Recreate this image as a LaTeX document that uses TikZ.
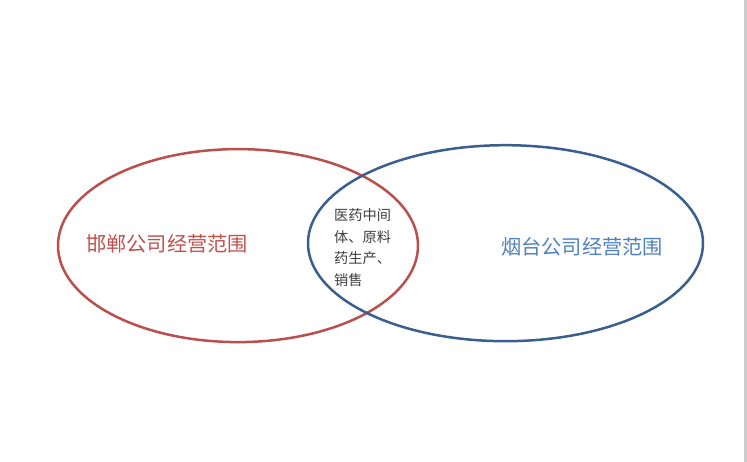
\documentclass[tikz,border=0pt]{standalone}
\usepackage{fontspec}
\newfontfamily\cjk{Noto Sans CJK SC}
\usetikzlibrary{shapes.geometric}
\definecolor{redline}{HTML}{B9504D}
\definecolor{blueline}{HTML}{3A5F8E}
\definecolor{redtext}{HTML}{C0504D}
\definecolor{bluetext}{HTML}{4F81BD}
\definecolor{graytext}{HTML}{3F3F3F}
\tikzset{
  setell/.style={ellipse, draw, line width=2.5pt, inner sep=0pt},
  biglabel/.style={font=\cjk\fontsize{20.2}{24}\selectfont, inner sep=0pt},
  midlabel/.style={font=\cjk\fontsize{14.2}{21.5}\selectfont, inner sep=0pt, align=left, text=graytext}
}
\begin{document}
\begin{tikzpicture}[x=1pt,y=-1pt]
\useasboundingbox (0,0) rectangle (747,462);
\fill[white] (0,0) rectangle (747,462);
\fill[black!20] (744,0) rectangle (747,462);
\node[setell, redline, minimum width=360pt, minimum height=193pt] (hd) at (238,245.6) {};
\node[setell, blueline, minimum width=395pt, minimum height=196pt] (yt) at (505.5,243.2) {};
\node[biglabel, text=redtext] (hdl) at (167,244) {邯郸公司经营范围};
\node[biglabel, text=bluetext] (ytl) at (582,247) {烟台公司经营范围};
\node[midlabel, anchor=north west] (mid) at (334,208.5) {医药中间\\体、原料\\药生产、\\销售};
\end{tikzpicture}
\end{document}
